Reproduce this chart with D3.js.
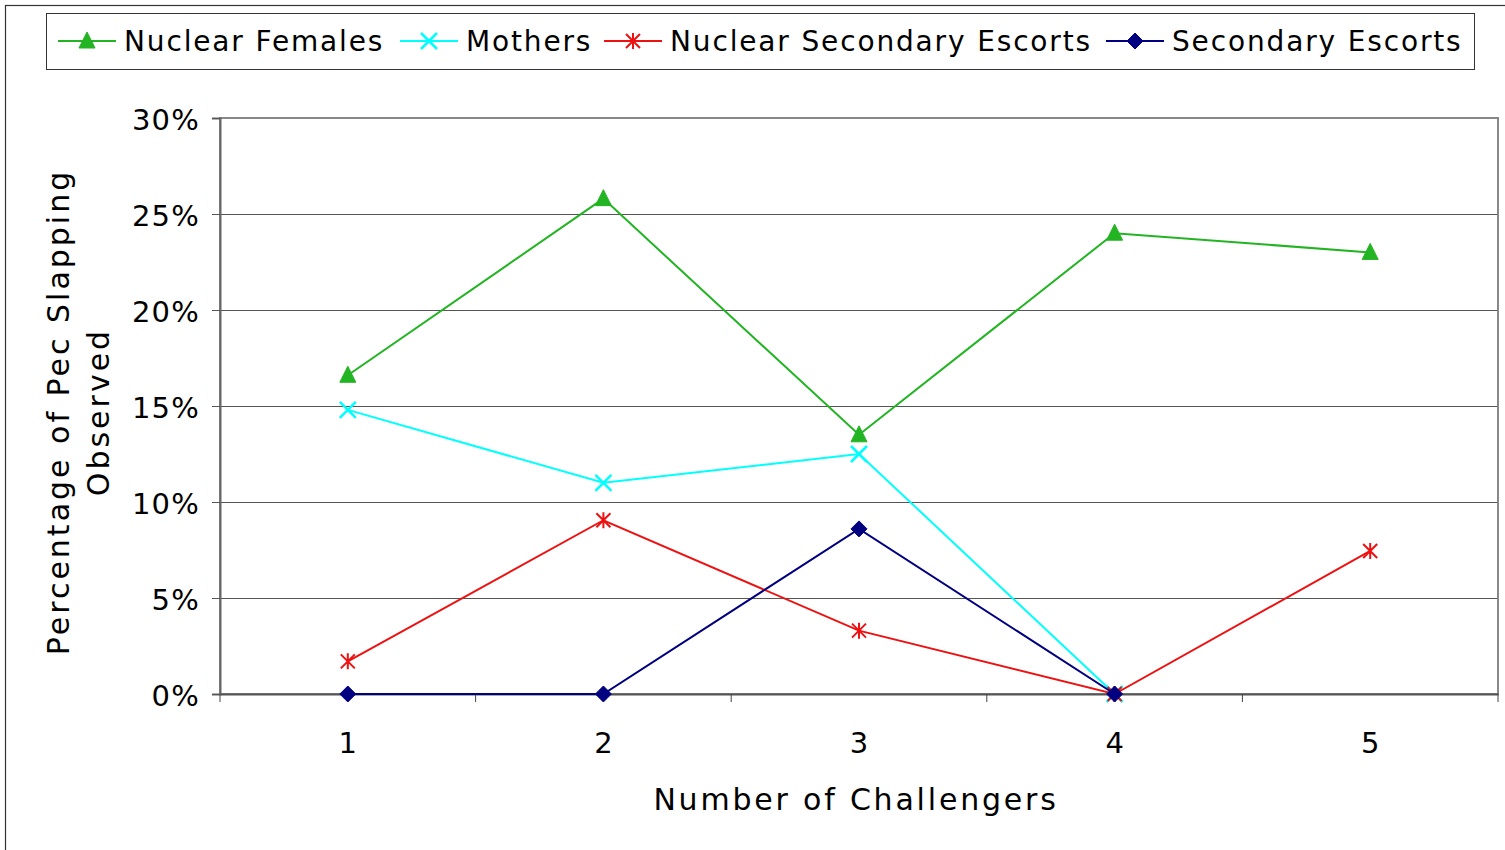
<!DOCTYPE html>
<html><head><meta charset="utf-8">
<script src="https://cdn.jsdelivr.net/npm/d3@7"></script>
<style>body{margin:0;background:#fff}svg{display:block}text{font-family:"DejaVu Sans",Verdana,sans-serif}</style>
</head><body>
<script>
const categories = ["1","2","3","4","5"];
const seriesNames = ["Nuclear Females","Mothers","Nuclear Secondary Escorts","Secondary Escorts"];
const nuclearFemales = [16.6, 25.8, 13.5, 24.0, 23.0];
const mothers = [14.8, 11.0, 12.5, 0.0, null];
const nuclearSecondaryEscorts = [1.7, 9.05, 3.3, 0.0, 7.45];
const secondaryEscorts = [0.0, 0.0, 8.6, 0.0, null];
const yTicks = [0, 5, 10, 15, 20, 25, 30];
const yTitle = ["Percentage of Pec Slapping", "Observed"];
const xTitle = "Number of Challengers";

const W = 1505, H = 850;
const svg = d3.select("body").append("svg").attr("width", W).attr("height", H);
const plot = {l:220, r:1498, t:118, b:694};
const x = d3.scaleBand().domain(categories).range([plot.l, plot.r]);
const y = d3.scaleLinear().domain([0,30]).range([plot.b, plot.t]);

// outer frame
svg.append("rect").attr("x",5.5).attr("y",5.5).attr("width",W+10).attr("height",H+10)
  .attr("fill","none").attr("stroke","#333").attr("stroke-width",1.2);

// gridlines
svg.append("g").selectAll("line").data(yTicks.filter(d=>d>0 && d<30)).join("line")
  .attr("x1",plot.l).attr("x2",plot.r).attr("y1",d=>Math.round(y(d))+0.5).attr("y2",d=>Math.round(y(d))+0.5)
  .attr("stroke","#555").attr("stroke-width",1);

// plot border
svg.append("rect").attr("x",plot.l).attr("y",plot.t).attr("width",plot.r-plot.l).attr("height",plot.b-plot.t)
  .attr("fill","none").attr("stroke","#888").attr("stroke-width",2);

// y axis
const yAxis = d3.axisLeft(y).tickValues(yTicks).tickFormat(d=>d+"%").tickSize(8).tickPadding(12);
const gy = svg.append("g").attr("transform",`translate(${plot.l},0)`).call(yAxis);
gy.select(".domain").attr("stroke","#666").attr("stroke-width",2);
gy.selectAll(".tick line").attr("stroke","#555");
gy.selectAll("text").attr("font-size",29).attr("fill","#000").attr("letter-spacing","1.2px").attr("dy","0.4em");

// x axis
const xAxis = d3.axisBottom(x).tickSize(0).tickPadding(38);
const gx = svg.append("g").attr("transform",`translate(0,${plot.b})`).call(xAxis);
gx.select(".domain").attr("stroke","#555").attr("stroke-width",2);
gx.selectAll("text").attr("font-size",29).attr("fill","#000");
const edges = categories.map(c=>x(c)).concat([plot.r]);
svg.append("g").selectAll("line").data(edges).join("line")
  .attr("x1",d=>d).attr("x2",d=>d).attr("y1",plot.b).attr("y2",plot.b+8).attr("stroke","#444");

// axis titles
svg.append("text").attr("x",856).attr("y",810).attr("text-anchor","middle").attr("font-size",30)
  .attr("letter-spacing","2.8px").text(xTitle);
const yt = svg.append("text").attr("transform","translate(69,412) rotate(-90)").attr("text-anchor","middle")
  .attr("font-size",30).attr("letter-spacing","3px");
yt.selectAll("tspan").data(yTitle).join("tspan").attr("x",0).attr("dy",(d,i)=>i?40:0).text(d=>d);

const colors = ["#22b422","#00ffff","#ee1111","#000080"];
const shapes = ["triangle","x","star","diamond"];
const data = [nuclearFemales, mothers, nuclearSecondaryEscorts, secondaryEscorts];

function marker(g, shape, color){
  if(shape==="triangle") g.append("path").attr("d","M0,-9 L8,7 L-8,7 Z").attr("fill",color).attr("stroke",color).attr("stroke-linejoin","round");
  else if(shape==="diamond") g.append("path").attr("d","M0,-8 L8,0 L0,8 L-8,0 Z").attr("fill",color).attr("stroke",color).attr("stroke-linejoin","round");
  else if(shape==="x") g.append("path").attr("d","M-8,-8 L8,8 M-8,8 L8,-8").attr("stroke",color).attr("stroke-width",2.5);
  else g.append("path").attr("d","M-7,-7 L7,7 M-7,7 L7,-7 M0,-8 L0,8").attr("stroke",color).attr("stroke-width",2);
}

const cx = c=>x(c)+x.bandwidth()/2;
data.forEach((vals,i)=>{
  const pts = categories.map((c,j)=>({c, v:vals[j]})).filter(d=>d.v!==null);
  svg.append("path").datum(pts).attr("fill","none").attr("stroke",colors[i]).attr("stroke-width",2)
    .attr("d", d3.line().x(d=>cx(d.c)).y(d=>y(d.v)));
  pts.forEach(p=>{
    const g = svg.append("g").attr("transform",`translate(${cx(p.c)},${y(p.v)})`);
    marker(g, shapes[i], colors[i]);
  });
});

// legend
svg.append("rect").attr("x",46.5).attr("y",13.5).attr("width",1428).attr("height",56)
  .attr("fill","#fff").attr("stroke","#333").attr("stroke-width",1);
const legX = [58, 400, 604, 1106];
seriesNames.forEach((n,i)=>{
  const g = svg.append("g").attr("transform",`translate(${legX[i]},41)`);
  g.append("line").attr("x1",0).attr("x2",58).attr("stroke",colors[i]).attr("stroke-width",2);
  const m = g.append("g").attr("transform","translate(29,0)");
  marker(m, shapes[i], colors[i]);
  g.append("text").attr("x",66).attr("y",10).attr("font-size",28).attr("letter-spacing","1.85px").text(n);
});
</script>
</body></html>
